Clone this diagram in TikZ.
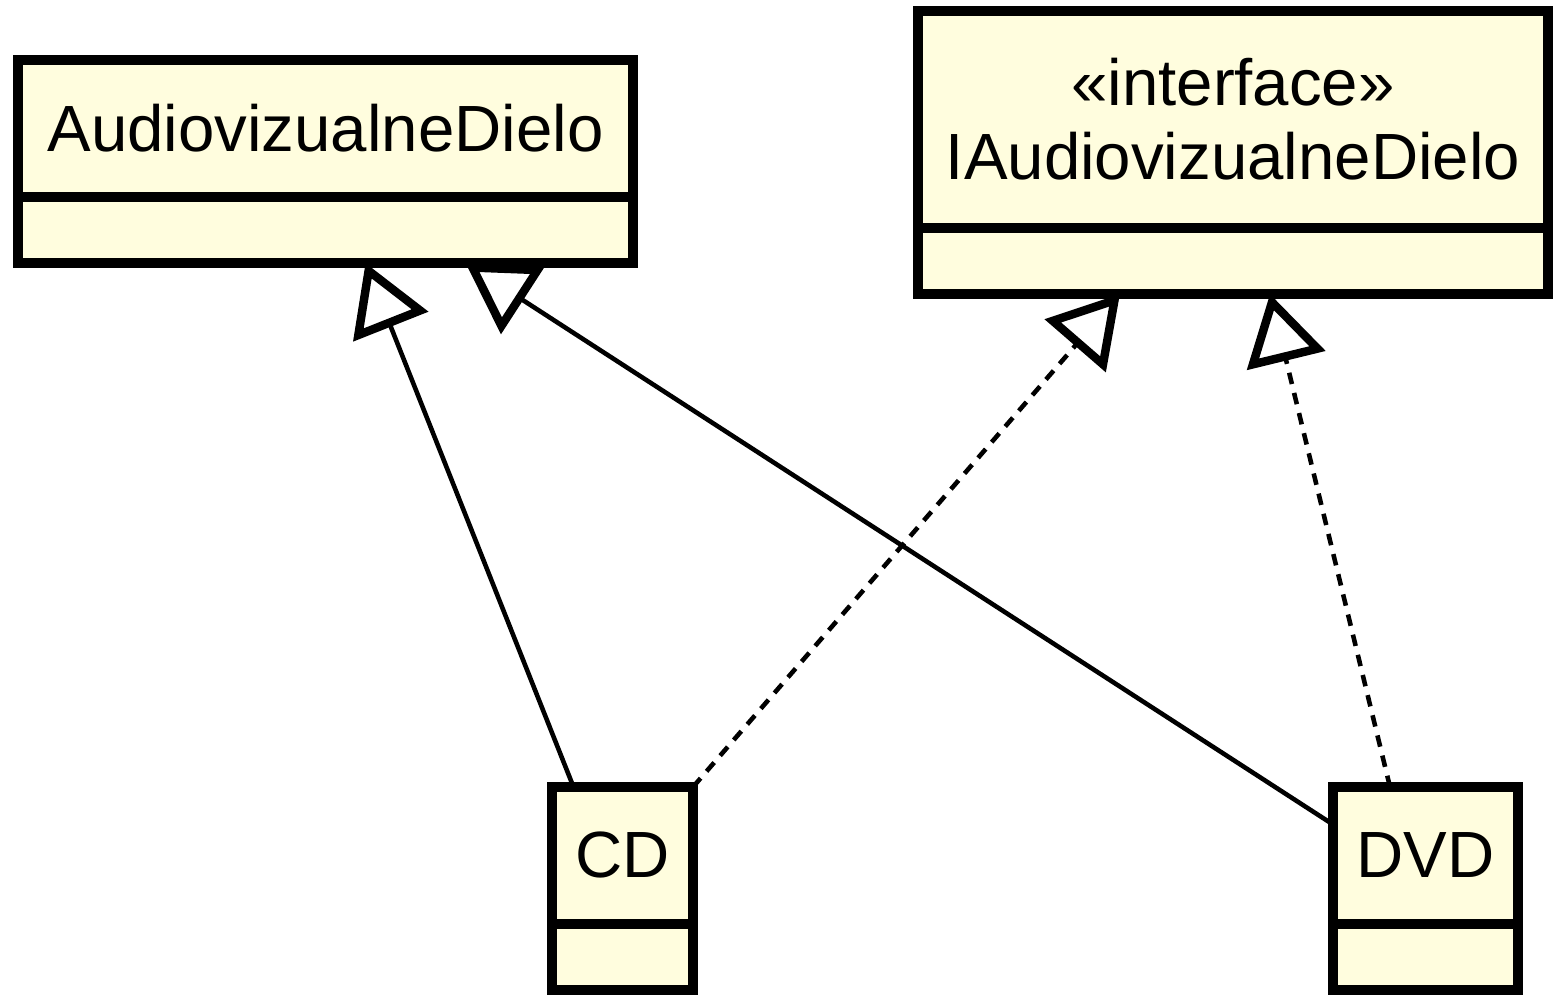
\documentclass[tikz,border=0pt]{standalone}
\usepackage{fontspec}
\setmainfont{Liberation Sans}
\usepackage{tikz}
\usetikzlibrary{shapes}
\usetikzlibrary{positioning}
\usetikzlibrary{arrows.meta}
\usepackage{xcolor}
\definecolor{clsfill}{RGB}{255,253,222}

\begin{document}
\begin{tikzpicture}[
  clsbox/.style={draw, fill=clsfill, line width=3.1pt, outer sep=0pt, inner sep=0pt},
  clshead/.style={clsbox, minimum height=1.37cm, align=center, font=\fontsize{18.6pt}{21pt}\selectfont},
  clsbody/.style={clsbox, minimum height=0.66cm},
  realize/.style={-{Triangle[open, length=19.5pt, width=22.5pt, line width=2.4pt]}, line width=1.3pt}
]
\useasboundingbox (0,0) rectangle (15.55,9.99);
\node[clshead, minimum width=6.15cm] (ad) at (3.255,8.705) {AudiovizualneDielo};
\node[clsbody, minimum width=6.15cm, below=0pt of ad] (adb) {};
\node[clshead, minimum width=6.30cm, minimum height=2.17cm] (iad) at (12.33,8.795) {«interface»\\IAudiovizualneDielo};
\node[clsbody, minimum width=6.30cm, below=0pt of iad] (iadb) {};
\node[clshead, minimum width=1.41cm] (cd) at (6.225,1.435) {CD};
\node[clsbody, minimum width=1.41cm, below=0pt of cd] (cdb) {};
\node[clshead, minimum width=1.85cm] (dvd) at (14.255,1.435) {DVD};
\node[clsbody, minimum width=1.85cm, below=0pt of dvd] (dvdb) {};
\draw[realize] ([xshift=-0.49cm]cd.north) -- ([xshift=0.4cm]adb.south);
\draw[realize] ([yshift=0.31cm]dvd.west) -- ([xshift=1.4cm]adb.south);
\draw[realize, dash pattern=on 3.3pt off 2.6pt] (cd.north east) -- ([xshift=-1.13cm]iadb.south);
\draw[realize, dash pattern=on 3.3pt off 2.6pt] ([xshift=-0.355cm]dvd.north) -- ([xshift=0.37cm]iadb.south);
\end{tikzpicture}
\end{document}
